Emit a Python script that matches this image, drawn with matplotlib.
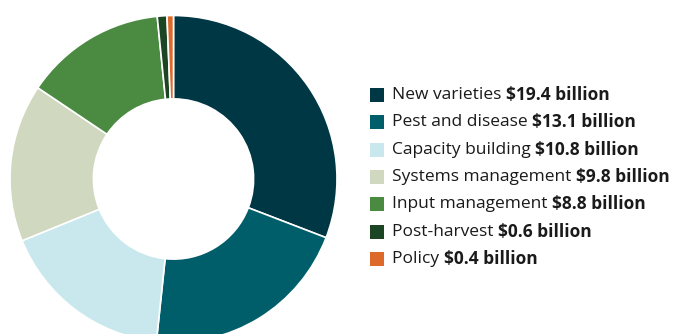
import matplotlib
matplotlib.use('Agg')
import matplotlib.pyplot as plt
from matplotlib.patches import Rectangle

plt.rcParams['font.family'] = ['Open Sans', 'DejaVu Sans']

# research investment by category (US$ billion)
categories = ['New varieties', 'Pest and disease', 'Capacity building',
              'Systems management', 'Input management', 'Post-harvest', 'Policy']
values = [19.4, 13.1, 10.8, 9.8, 8.8, 0.6, 0.4]
value_labels = ['$19.4 billion', '$13.1 billion', '$10.8 billion', '$9.8 billion',
                '$8.8 billion', '$0.6 billion', '$0.4 billion']
colors = ['#003745', '#005E6A', '#C9E8ED', '#D0D8BF', '#4A8A41', '#1C4523', '#DD6A2A']

W, H = 680, 334
fig = plt.figure(figsize=(W / 100, H / 100), dpi=100)

# donut, square box in pixels, partly below the bottom edge
cx, cy, r = 173.5, 179, 163.5
ax = fig.add_axes([(cx - r) / W, (H - cy - r) / H, 2 * r / W, 2 * r / H])
ax.pie(values, colors=colors, startangle=90, counterclock=False, radius=1,
       wedgeprops=dict(width=0.51, edgecolor='white', linewidth=1.2))
ax.set_xlim(-1, 1)
ax.set_ylim(-1, 1)
ax.set_aspect('auto')
ax.axis('off')

# legend: colour square, plain category name, bold value
fig.canvas.draw()
renderer = fig.canvas.get_renderer()
y0, step = 95, 27.3
fs = 12.5
for i, (cat, lab, col) in enumerate(zip(categories, value_labels, colors)):
    y = y0 + i * step
    fig.patches.append(Rectangle((370 / W, (H - y - 7) / H), 14 / W, 14 / H,
                                 transform=fig.transFigure, facecolor=col,
                                 edgecolor='none'))
    t = fig.text(392 / W, (H - y) / H, cat + ' ', fontsize=fs, color='#1a1a1a',
                 va='center', ha='left')
    bb = t.get_window_extent(renderer=renderer)
    fig.text(bb.x1 / W, (H - y) / H, lab, fontsize=fs, fontweight='bold',
             color='#1a1a1a', va='center', ha='left')

fig.savefig('out.png', dpi=100)
